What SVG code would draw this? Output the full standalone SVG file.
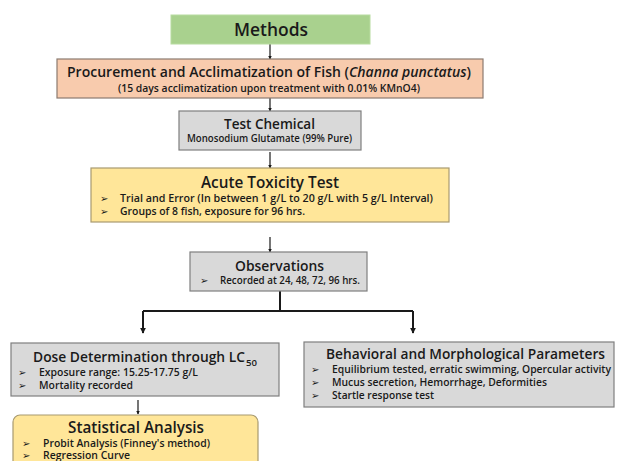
<svg xmlns="http://www.w3.org/2000/svg" width="621" height="461" viewBox="0 0 621 461">
<defs>
<style>
text{font-family:"Open Sans","DejaVu Sans",sans-serif;fill:#1a1a1a}
.t{font-weight:600}
.b{font-weight:600}
.gray{fill:#d9d9d9;stroke:#7f7f7f;stroke-width:1.2}
.yel{fill:#ffe699;stroke:#a89a70;stroke-width:1.2}
.ln{fill:none;stroke:#1a1a1a;stroke-width:1.2}
.lnb{fill:none;stroke:#1a1a1a;stroke-width:2}
.bl{font-family:"DejaVu Sans",sans-serif;font-size:10px}
</style>
<marker id="ah" viewBox="0 0 8 8" refX="7" refY="4" markerWidth="4" markerHeight="4" orient="auto" markerUnits="userSpaceOnUse">
<path d="M0,0 L8,4 L0,8 Z" fill="#1a1a1a"/>
</marker>
<marker id="ah2" viewBox="0 0 8 8" refX="7" refY="4" markerWidth="6" markerHeight="6" orient="auto" markerUnits="userSpaceOnUse">
<path d="M0,0 L8,4 L0,8 Z" fill="#1a1a1a"/>
</marker>
</defs>
<rect width="621" height="461" fill="#ffffff"/>
<g id="connectors">
<line class="ln" x1="270" y1="44" x2="270" y2="59" marker-end="url(#ah)"/>
<line class="ln" x1="270" y1="98" x2="270" y2="111" marker-end="url(#ah)"/>
<line class="ln" x1="270" y1="152" x2="270" y2="168" marker-end="url(#ah)"/>
<line class="ln" x1="270" y1="237" x2="270" y2="252" marker-end="url(#ah)"/>
<path class="lnb" d="M280,291 V311 M143,311 H413"/>
<line class="lnb" x1="143" y1="311" x2="143" y2="333" marker-end="url(#ah2)"/>
<line class="lnb" x1="413" y1="311" x2="413" y2="333" marker-end="url(#ah2)"/>
<line class="ln" x1="138" y1="400" x2="138" y2="414" marker-end="url(#ah)"/>
</g>
<g id="methods">
<rect x="171" y="15" width="199" height="29" fill="#a9d18e" stroke="#b8dca0" stroke-width="1"/>
<text class="b" x="271" y="36" font-size="18" text-anchor="middle" textLength="74" lengthAdjust="spacingAndGlyphs">Methods</text>
</g>
<g id="procurement">
<rect x="57" y="59" width="426" height="39" fill="#f8cbad" stroke="#8c7b70" stroke-width="1.2"/>
<text class="t" x="67" y="77" font-size="14.5" textLength="404" lengthAdjust="spacingAndGlyphs">Procurement and Acclimatization of Fish (<tspan font-style="italic">Channa punctatus</tspan>)</text>
<text class="b" x="118" y="92" font-size="10.5" textLength="302" lengthAdjust="spacingAndGlyphs">(15 days acclimatization upon treatment with 0.01% KMnO4)</text>
</g>
<g id="test-chemical">
<rect class="gray" x="179" y="111" width="182" height="39"/>
<text class="t" x="224" y="129" font-size="15" textLength="91" lengthAdjust="spacingAndGlyphs">Test Chemical</text>
<text class="b" x="187" y="142" font-size="10" textLength="165" lengthAdjust="spacingAndGlyphs">Monosodium Glutamate (99% Pure)</text>
</g>
<g id="acute">
<rect class="yel" x="91" y="168" width="358" height="54"/>
<text class="t" x="201" y="188" font-size="16.5" textLength="138" lengthAdjust="spacingAndGlyphs">Acute Toxicity Test</text>
<text class="bl" x="100" y="202">➢</text>
<text class="b" x="120" y="202" font-size="10.5" textLength="313" lengthAdjust="spacingAndGlyphs">Trial and Error (In between 1 g/L to 20 g/L with 5 g/L Interval)</text>
<text class="bl" x="100" y="215">➢</text>
<text class="b" x="120" y="215" font-size="10.5" textLength="185" lengthAdjust="spacingAndGlyphs">Groups of 8 fish, exposure for 96 hrs.</text>
</g>
<g id="observations">
<rect class="gray" x="190" y="252" width="177" height="39"/>
<text class="t" x="235" y="271" font-size="14.5" textLength="89" lengthAdjust="spacingAndGlyphs">Observations</text>
<text class="bl" x="200" y="284">➢</text>
<text class="b" x="220" y="284" font-size="10" textLength="140" lengthAdjust="spacingAndGlyphs">Recorded at 24, 48, 72, 96 hrs.</text>
</g>
<g id="dose">
<rect class="gray" x="11" y="343" width="268" height="53"/>
<text class="t" x="33" y="362" font-size="15" textLength="212" lengthAdjust="spacingAndGlyphs">Dose Determination through LC</text>
<text class="t" x="246" y="366" font-size="9" textLength="11" lengthAdjust="spacingAndGlyphs">50</text>
<text class="bl" x="18" y="376">➢</text>
<text class="b" x="39" y="376" font-size="10.5" textLength="159" lengthAdjust="spacingAndGlyphs">Exposure range: 15.25-17.75 g/L</text>
<text class="bl" x="18" y="389">➢</text>
<text class="b" x="39" y="389" font-size="10.5" textLength="94" lengthAdjust="spacingAndGlyphs">Mortality recorded</text>
</g>
<g id="behavioral">
<rect class="gray" x="304" y="342" width="310" height="65"/>
<text class="t" x="326" y="359" font-size="15" textLength="279" lengthAdjust="spacingAndGlyphs">Behavioral and Morphological Parameters</text>
<text class="bl" x="311" y="373">➢</text>
<text class="b" x="332" y="373" font-size="10.5" textLength="279" lengthAdjust="spacingAndGlyphs">Equilibrium tested, erratic swimming, Opercular activity</text>
<text class="bl" x="311" y="386">➢</text>
<text class="b" x="332" y="386" font-size="10.5" textLength="215" lengthAdjust="spacingAndGlyphs">Mucus secretion, Hemorrhage, Deformities</text>
<text class="bl" x="311" y="399">➢</text>
<text class="b" x="332" y="399" font-size="10.5" textLength="102" lengthAdjust="spacingAndGlyphs">Startle response test</text>
</g>
<g id="statistical">
<rect class="yel" x="13" y="415" width="245" height="60" rx="7" ry="7" stroke="#8f8f8f"/>
<text class="t" x="68" y="433" font-size="16" textLength="136" lengthAdjust="spacingAndGlyphs">Statistical Analysis</text>
<text class="bl" x="22" y="447">➢</text>
<text class="b" x="43" y="447" font-size="10.5" textLength="167" lengthAdjust="spacingAndGlyphs">Probit Analysis (Finney's method)</text>
<text class="bl" x="22" y="459">➢</text>
<text class="b" x="43" y="459" font-size="10.5" textLength="87" lengthAdjust="spacingAndGlyphs">Regression Curve</text>
</g>
</svg>
